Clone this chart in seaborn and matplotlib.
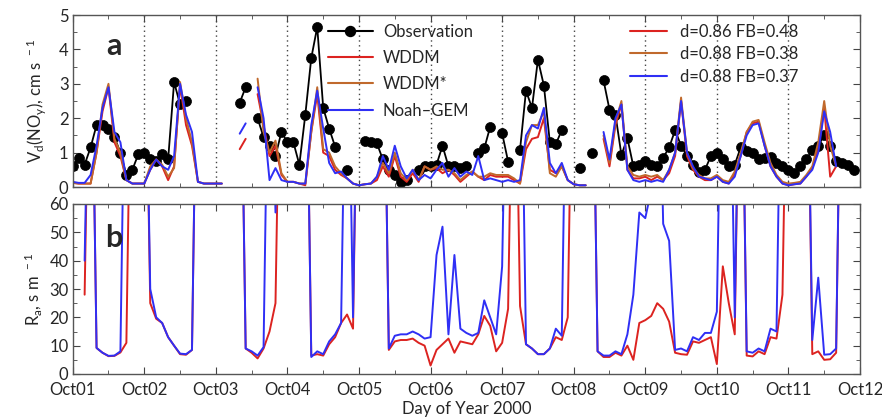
import numpy as np
import pandas as pd
import matplotlib
matplotlib.use('Agg')
import matplotlib.pyplot as plt
from matplotlib.lines import Line2D
from matplotlib.ticker import MultipleLocator
import seaborn as sns

nan = np.nan
OFF = 150  # Ra above the 60 s/m axis top (clipped)

# 2-hourly values, Oct01 00h .. Oct12 00h
hours = np.arange(0, 266, 2)
day_labels = ['Oct01', 'Oct02', 'Oct03', 'Oct04', 'Oct05', 'Oct06',
              'Oct07', 'Oct08', 'Oct09', 'Oct10', 'Oct11', 'Oct12']

# panel a: deposition velocity of NOy, cm/s
obs = [0.6, 0.85, 0.65, 1.15, 1.8, 1.8, 1.7, 1.45, 1.0, 0.35, 0.5, 0.95,
       1.0, 0.8, 0.75, 0.95, 0.8, 3.05, 2.4, 2.5, nan, nan, nan, nan,
       nan, nan, nan, nan, 2.45, 2.9, nan, 2.0, 1.45, 1.2, 0.9, 1.6,
       1.3, 1.3, 0.65, 2.1, 3.75, 4.65, 2.3, 1.7, 1.17, nan, 0.5, nan,
       nan, 1.35, 1.3, 1.27, 0.8, 0.5, 0.35, 0.15, 0.2, nan, 0.5, 0.6,
       0.6, 0.65, 1.2, 0.6, 0.6, 0.55, 0.6, nan, 0.98, 1.12, 1.75, nan,
       1.56, 0.74, nan, 1.08, 2.8, 2.3, 3.7, 2.95, 1.3, 1.25, 1.65, nan,
       nan, 0.55, nan, 1.0, nan, 3.1, 2.25, 2.1, 0.93, 1.42, 0.6, 0.65,
       0.75, 0.65, 0.6, 0.85, 1.15, 1.65, 1.2, 0.9, 0.65, 0.45, 0.5, 0.9,
       1.0, 0.8, 0.6, 0.65, 1.15, 1.05, 1.0, 0.8, 0.85, 0.88, 0.7, 0.6,
       0.5, 0.4, 0.6, 0.8, 1.08, 1.2, 1.5, 1.2, 0.75, 0.7, 0.65, 0.5,
       nan]

wddm_vd = [0.12, 0.1, 0.1, 0.1, 1.0, 2.2, 2.9, 1.3, 0.9, 0.2, 0.1, 0.1,
           0.1, 0.5, 0.8, 0.6, 0.2, 0.6, 2.95, 1.8, 1.2, 0.15, 0.1, 0.1,
           0.1, 0.1, nan, nan, 1.1, 1.4, nan, 2.7, 1.8, 0.9, 1.2, 0.35,
           0.15, 0.15, 0.1, 0.05, 1.6, 2.7, 1.0, 0.9, 0.5, 0.35, 0.25, 0.1,
           0.05, 0.08, 0.1, 0.2, 0.6, 0.3, 0.9, 0.3, 0.15, 0.4, 0.15, 0.6,
           0.5, 0.55, 0.4, 0.5, 0.35, 0.15, 0.3, 0.45, 0.3, 0.2, 0.35, 0.3,
           0.3, 0.3, 0.2, 0.1, 1.1, 1.4, 1.45, 2.0, 0.5, 0.4, 0.6, 0.2,
           0.08, 0.05, 0.05, nan, nan, 1.4, 0.6, 1.8, 2.4, 0.5, 0.25, 0.25,
           0.3, 0.2, 0.3, 0.2, 0.4, 0.9, 2.5, 0.9, 0.5, 0.3, 0.2, 0.2,
           0.3, 0.15, 0.1, 0.4, 0.9, 1.6, 1.85, 1.9, 1.2, 0.6, 0.3, 0.1,
           0.05, 0.08, 0.1, 0.3, 0.55, 1.1, 2.3, 0.3, 0.6, nan, nan, nan,
           nan]

wddm_star_vd = [0.12, 0.1, 0.1, 0.1, 1.0, 2.4, 3.0, 1.4, 1.0, 0.2, 0.1, 0.1,
                0.1, 0.6, 0.8, 0.65, 0.3, 0.55, 3.05, 2.0, 1.3, 0.15, 0.1, 0.1,
                0.1, 0.1, nan, nan, nan, nan, nan, 3.15, 1.6, 1.0, 1.35, 0.4,
                0.15, 0.15, 0.1, 0.1, 1.6, 2.9, 1.1, 1.0, 0.6, 0.4, 0.25, 0.1,
                0.05, 0.08, 0.1, 0.3, 0.7, 0.4, 1.0, 0.4, 0.2, 0.5, 0.2, 0.6,
                0.5, 0.6, 0.5, 0.5, 0.4, 0.2, 0.35, 0.45, 0.3, 0.3, 0.4, 0.35,
                0.35, 0.35, 0.25, 0.1, 1.3, 1.8, 1.8, 2.2, 0.4, 0.3, 0.6, 0.2,
                0.08, 0.05, 0.05, nan, nan, 1.5, 0.7, 1.9, 2.5, 0.6, 0.35, 0.3,
                0.35, 0.3, 0.35, 0.2, 0.5, 1.0, 2.6, 1.0, 0.55, 0.35, 0.25, 0.25,
                0.35, 0.2, 0.15, 0.45, 1.0, 1.6, 1.9, 1.95, 1.3, 0.7, 0.35, 0.15,
                0.1, 0.12, 0.15, 0.35, 0.6, 1.3, 2.5, 1.2, 0.6, nan, nan, nan,
                nan]

noah_vd = [0.15, 0.12, 0.12, 0.35, 1.2, 2.3, 2.9, 1.6, 1.3, 0.2, 0.1, 0.1,
           0.1, 0.5, 0.8, 0.6, 0.5, 0.9, 3.0, 2.1, 1.6, 0.15, 0.1, 0.1,
           0.1, 0.1, nan, nan, 1.55, 1.85, nan, 2.9, 2.0, 0.2, 0.55, 0.2,
           0.15, 0.15, 0.1, 0.1, 1.8, 2.8, 1.7, 0.7, 0.4, 0.45, 0.25, 0.1,
           0.05, 0.08, 0.1, 0.3, 0.9, 0.5, 1.2, 0.6, 0.25, 0.5, 0.2, 0.35,
           0.25, 0.5, 0.7, 0.3, 0.55, 0.3, 0.45, 0.35, 0.9, 0.2, 0.25, 0.2,
           0.15, 0.2, 0.15, 0.2, 1.5, 1.8, 1.7, 2.3, 0.7, 0.4, 0.7, 0.2,
           0.08, 0.05, 0.05, nan, nan, 1.6, 0.8, 2.0, 2.4, 0.5, 0.2, 0.15,
           0.2, 0.15, 0.2, 0.15, 0.5, 1.0, 2.5, 1.0, 0.6, 0.3, 0.25, 0.2,
           0.3, 0.15, 0.1, 0.3, 0.9, 1.5, 1.8, 1.85, 1.2, 0.6, 0.3, 0.1,
           0.05, 0.08, 0.1, 0.3, 0.5, 1.0, 2.2, 1.6, 0.6, nan, nan, nan,
           nan]

# panel b: aerodynamic resistance, s/m
wddm_ra = [nan, nan, 28, OFF, 9.2, 7.5, 6.3, 6.4, 7.6, 11, OFF, OFF,
           OFF, 25, 19.5, 18, 13, 10, 7, 6.8, 8.5, OFF, OFF, OFF,
           OFF, OFF, OFF, OFF, OFF, 9, 7.5, 5.5, 9, 15, 25, OFF,
           OFF, OFF, OFF, OFF, 6.5, 7, 6.5, 10.5, 13, 18, 21, 16,
           OFF, OFF, OFF, OFF, OFF, 8.5, 11.5, 12, 12, 12.5, 11, 10,
           3, 8.5, 10.5, 12.5, 7.5, 11.5, 11, 10.5, 14, 20.5, 17, 8,
           11, 23, OFF, 24, 10.5, 9, 7, 7, 9, 13, 12, 20,
           OFF, OFF, OFF, OFF, 8, 6, 6, 7.5, 6.5, 10, 5, 18,
           19, 20.5, 25, 23, 18.5, 7.5, 7, 6.8, 11.5, 11, 12, 13,
           3.5, 38, 25, 14, OFF, 6.5, 6.2, 8, 7, 13, 12.5, 28,
           OFF, OFF, OFF, OFF, 7, 8, 5, 5.2, 7.5, OFF, OFF, OFF,
           OFF]

noah_ra = [nan, nan, 40, OFF, 9.2, 7.5, 6.4, 6.5, 8.0, OFF, OFF, OFF,
           OFF, 30, 20, 18, 13, 10, 7.2, 7, 8.5, OFF, OFF, OFF,
           OFF, OFF, OFF, OFF, OFF, 9, 8, 6.5, 9.5, OFF, 57, OFF,
           OFF, OFF, OFF, OFF, 6, 8, 7, 11.5, 14, 18, OFF, 20,
           OFF, OFF, OFF, OFF, OFF, 9, 13.5, 14, 14, 15, 14, 12.5,
           13, 42, 52, 14, 42, 16, 14.5, 13.5, 14.5, 26, 20, 14,
           38, OFF, OFF, OFF, 10.5, 9, 7, 7, 9, 16, 13.5, OFF,
           OFF, OFF, OFF, OFF, 8, 6.5, 6.5, 8, 7, 14, 28, 57,
           55, 65, OFF, 53, 47, 8.5, 9, 8, 13, 12, 14.5, 14.5,
           22, OFF, OFF, 20, OFF, 8, 7.5, 9, 8, 16, 15, OFF,
           OFF, OFF, OFF, OFF, 12, 34, 6.8, 7, 9, OFF, OFF, OFF,
           OFF]

stats_labels = ['d=0.86 FB=0.48', 'd=0.88 FB=0.38', 'd=0.88 FB=0.37']

RED = '#dc2320'
ORANGE = '#c0692c'
BLUE = '#2f2ff5'

sns.set_style('ticks')
plt.rcParams['font.family'] = ['Lato', 'DejaVu Sans']
plt.rcParams['mathtext.default'] = 'regular'
plt.rcParams['font.size'] = 12

day = hours / 24.0


def draw(ax, values, color, **kw):
    v = np.asarray(values, dtype=float)
    seg = np.cumsum(np.isnan(v))
    df = pd.DataFrame({'day': day, 'value': v, 'seg': seg}).dropna()
    sns.lineplot(data=df, x='day', y='value', units='seg', estimator=None,
                 color=color, ax=ax, legend=False, **kw)


fig = plt.figure(figsize=(8.82, 4.2), dpi=100)
W, H = 882, 420
x0, x1 = 72.7, 860
ax_a = fig.add_axes([x0 / W, 1 - 187 / H, (x1 - x0) / W, (187 - 15) / H])
ax_b = fig.add_axes([x0 / W, 1 - 374 / H, (x1 - x0) / W, (374 - 204) / H])

for d in range(1, 11):
    ax_a.axvline(d, color='#444444', lw=1.0, ls=(0, (1, 2.5)), zorder=0)

draw(ax_a, obs, 'black', lw=1.3, marker='o', markersize=7.2,
     markeredgecolor='black', markeredgewidth=0.5)
draw(ax_a, wddm_vd, RED, lw=1.4)
draw(ax_a, wddm_star_vd, ORANGE, lw=1.4)
draw(ax_a, noah_vd, BLUE, lw=1.4)

draw(ax_b, wddm_ra, RED, lw=1.4)
draw(ax_b, noah_ra, BLUE, lw=1.4)

for ax in (ax_a, ax_b):
    ax.set_xlim(0, 11)
    ax.xaxis.set_major_locator(MultipleLocator(1))
    ax.xaxis.set_minor_locator(MultipleLocator(0.5))
    ax.tick_params(which='both', direction='in', top=True, right=True,
                   color='#444444', labelsize=12, pad=3)
    ax.tick_params(which='major', length=5)
    ax.tick_params(which='minor', length=3)
    for sp in ax.spines.values():
        sp.set_color('#555555')
        sp.set_linewidth(1.0)
    ax.set_ylabel('')
    ax.set_xlabel('')

ax_a.set_ylim(0, 5)
ax_a.yaxis.set_major_locator(MultipleLocator(1))
ax_a.yaxis.set_minor_locator(MultipleLocator(0.5))
ax_a.set_xticklabels([])
ax_a.set_ylabel('V$_d$(NO$_y$), cm s$^{\\ -1}$', fontsize=12, labelpad=8)

ax_b.set_ylim(0, 60)
ax_b.yaxis.set_major_locator(MultipleLocator(10))
ax_b.yaxis.set_minor_locator(MultipleLocator(5))
ax_b.set_xticks(range(12))
ax_b.set_xticklabels(day_labels)
ax_b.tick_params(axis='x', which='major', pad=6)
ax_b.set_ylabel('R$_a$, s m$^{\\ -1}$', fontsize=12, labelpad=4)
ax_b.set_xlabel('Day of Year 2000', fontsize=12, labelpad=2)

ax_a.text(0.052, 0.82, 'a', transform=ax_a.transAxes, fontsize=22,
          fontweight='bold', va='center', ha='center')
ax_b.text(0.052, 0.80, 'b', transform=ax_b.transAxes, fontsize=22,
          fontweight='bold', va='center', ha='center')

h1 = [Line2D([], [], color='black', lw=1.5, marker='o', markersize=7.2),
      Line2D([], [], color=RED, lw=1.5),
      Line2D([], [], color=ORANGE, lw=1.5),
      Line2D([], [], color=BLUE, lw=1.5)]
leg1 = ax_a.legend(h1, ['Observation', 'WDDM', 'WDDM*', 'Noah\u2013GEM'],
                   loc='upper left', bbox_to_anchor=(0.324, 0.95),
                   frameon=False, borderpad=0, borderaxespad=0,
                   handlelength=2.7, handletextpad=0.6, labelspacing=0.62,
                   fontsize=12)
ax_a.add_artist(leg1)

h2 = [Line2D([], [], color=c, lw=1.5) for c in (RED, ORANGE, BLUE)]
ax_a.legend(h2, stats_labels, loc='upper left', bbox_to_anchor=(0.708, 0.95),
            frameon=False, borderpad=0, borderaxespad=0,
            handlelength=2.2, handletextpad=0.8, labelspacing=0.4,
            fontsize=12)

fig.savefig('out.png', dpi=100)
